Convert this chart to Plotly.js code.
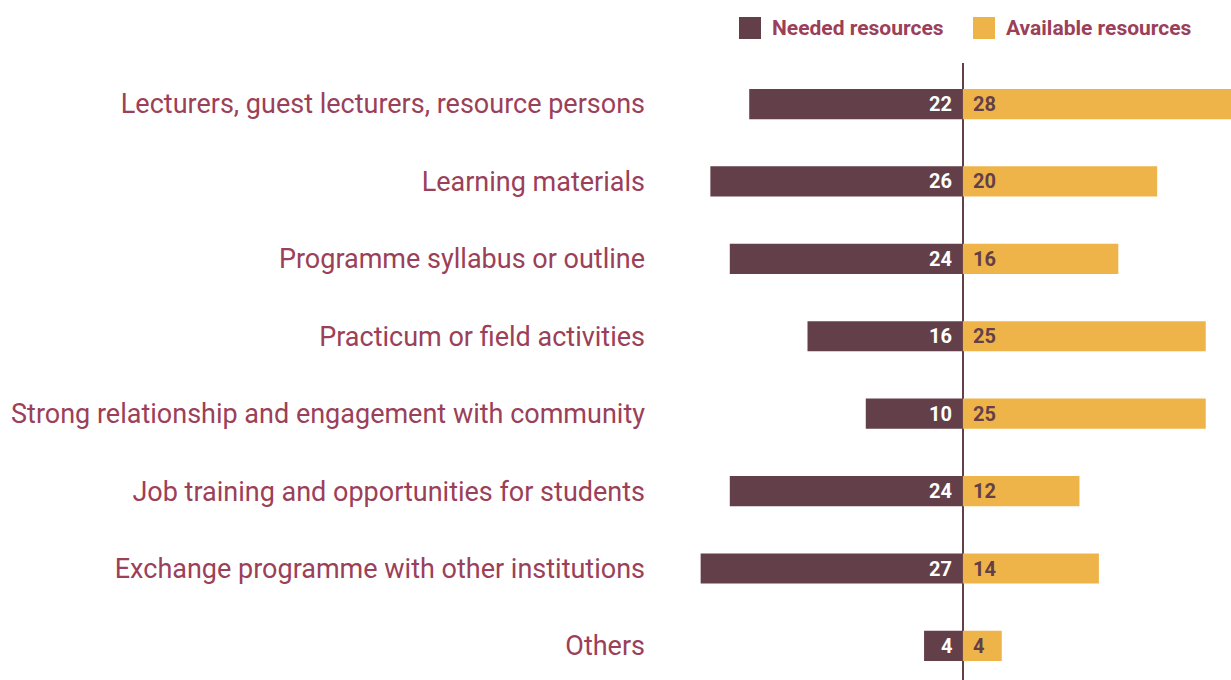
<!DOCTYPE html>
<html>
<head>
<meta charset="utf-8">
<script src="https://cdn.plot.ly/plotly-3.0.1.min.js"></script>
<style>html,body{margin:0;padding:0;background:#fff;}#chart{width:1231px;height:680px;}</style>
</head>
<body>
<div id="chart"></div>
<script>
const categories = [
  "Lecturers, guest lecturers, resource persons",
  "Learning materials",
  "Programme syllabus or outline",
  "Practicum or field activities",
  "Strong relationship and engagement with community",
  "Job training and opportunities for students",
  "Exchange programme with other institutions",
  "Others"
];
const needed = [22, 26, 24, 16, 10, 24, 27, 4];
const available = [28, 20, 16, 25, 25, 12, 14, 4];
const seriesNames = ["Needed resources", "Available resources"];

const cNeeded = "#633f49";
const cAvail = "#efb449";
const cLabel = "#9b4058";

const traces = [
  {
    type: "bar", orientation: "h", name: seriesNames[0],
    y: categories, x: needed.map(v => -v),
    marker: {color: cNeeded}, width: 0.39, hoverinfo: "skip", showlegend: false
  },
  {
    type: "bar", orientation: "h", name: seriesNames[1],
    y: categories, x: available,
    marker: {color: cAvail}, width: 0.39, hoverinfo: "skip", showlegend: false
  }
];

const valueFont = {family: "Roboto", size: 20, weight: "bold"};
const valueAnnotations = [];
categories.forEach((c, i) => {
  valueAnnotations.push({x: 0, y: c, xref: "x", yref: "y", xanchor: "right", yanchor: "middle",
    xshift: -9, yshift: 0, text: "<b>" + needed[i] + "</b>", showarrow: false,
    font: Object.assign({}, valueFont, {color: "#ffffff"})});
  valueAnnotations.push({x: 0, y: c, xref: "x", yref: "y", xanchor: "left", yanchor: "middle",
    xshift: 8, yshift: 0, text: "<b>" + available[i] + "</b>", showarrow: false,
    font: Object.assign({}, valueFont, {color: cNeeded})});
});

const layout = {
  width: 1231, height: 680,
  margin: {l: 655, r: 0, t: 63, b: 0, pad: 0},
  paper_bgcolor: "#fff", plot_bgcolor: "#fff",
  barmode: "overlay",
  showlegend: false,
  xaxis: {range: [-31.7, 27.6], showgrid: false, zeroline: true, zerolinecolor: cNeeded, zerolinewidth: 2,
          showticklabels: false, fixedrange: true},
  yaxis: {autorange: false, range: [7.44, -0.53], showgrid: false, zeroline: false,
          ticks: "", ticklabelstandoff: 9,
          tickfont: {family: "Roboto", size: 27, color: cLabel}},
  shapes: [
    {type: "rect", xref: "paper", yref: "paper", x0: (739-655)/576, x1: (761-655)/576, y0: 1 + (63-17)/617, y1: 1 + (63-39)/617,
     fillcolor: cNeeded, line: {width: 0}},
    {type: "rect", xref: "paper", yref: "paper", x0: (973-655)/576, x1: (995-655)/576, y0: 1 + (63-17)/617, y1: 1 + (63-39)/617,
     fillcolor: cAvail, line: {width: 0}}
  ],
  annotations: valueAnnotations.concat([
    {xref: "paper", yref: "paper", x: (770-655)/576, y: 1 + (63-28)/617, xanchor: "left", yanchor: "middle",
     text: "<b>" + seriesNames[0] + "</b>", showarrow: false, font: {family: "Roboto", size: 21, color: cLabel}},
    {xref: "paper", yref: "paper", x: (1004-655)/576, y: 1 + (63-28)/617, xanchor: "left", yanchor: "middle",
     text: "<b>" + seriesNames[1] + "</b>", showarrow: false, font: {family: "Roboto", size: 21, color: cLabel}}
  ])
};

Plotly.newPlot("chart", traces, layout, {displayModeBar: false, staticPlot: true});
</script>
</body>
</html>
